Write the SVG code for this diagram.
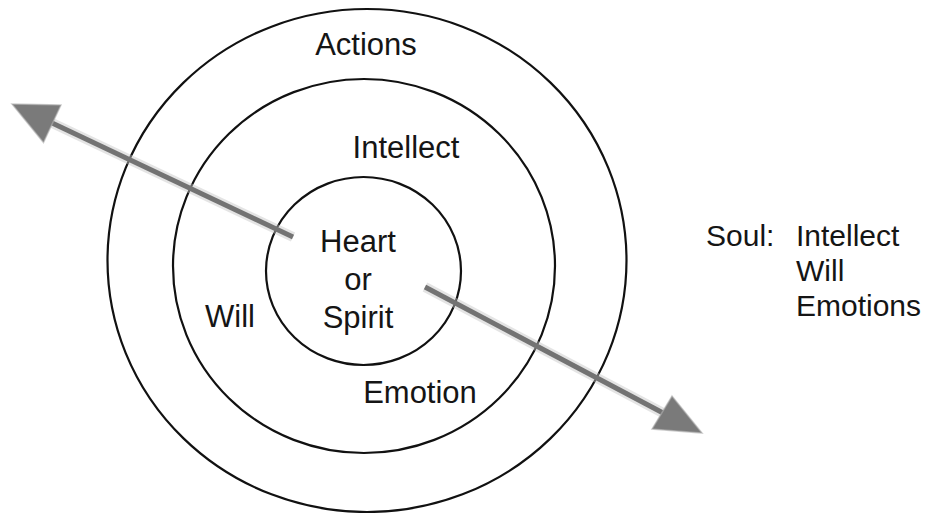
<svg xmlns="http://www.w3.org/2000/svg" width="934" height="513" viewBox="0 0 934 513">
<style>
.ring{fill:none;stroke:#111;stroke-width:2.2}
.t{font-family:"Liberation Sans",Arial,sans-serif;font-size:31px;fill:#151515}
.s{font-size:30px}
.c{text-anchor:middle}
.shaft{stroke:#737373;stroke-width:5;stroke-linecap:butt;fill:none}
.fuzz{stroke:#c4c4c4;stroke-width:10;stroke-opacity:0.45;fill:none}
.head{fill:#7a7a7a;stroke:#b0b0b0;stroke-width:1.5;stroke-opacity:0.6}
</style>
<rect width="934" height="513" fill="#fff"/>
<g id="outer"><ellipse class="ring" cx="367" cy="260.5" rx="259.5" ry="251.5"/><text class="t c" x="366" y="55">Actions</text></g>
<g id="middle"><ellipse class="ring" cx="364" cy="266" rx="191" ry="187"/><text class="t c" x="406" y="158">Intellect</text><text class="t" x="205" y="327">Will</text><text class="t c" x="420" y="403">Emotion</text></g>
<g id="inner"><ellipse class="ring" cx="363.5" cy="271" rx="97.5" ry="94"/><text class="t c" x="358" y="252">Heart</text><text class="t c" x="358" y="290">or</text><text class="t c" x="358" y="328">Spirit</text></g>
<g id="connectors">
<line class="fuzz" x1="293" y1="237" x2="50" y2="122"/>
<line class="shaft" x1="293" y1="237" x2="50" y2="122"/>
<polygon class="head" points="12,104 61,105 43.5,142.5"/>
<line class="fuzz" x1="425" y1="287" x2="665" y2="414"/>
<line class="shaft" x1="425" y1="287" x2="665" y2="414"/>
<polygon class="head" points="702,433 672,396 652,429"/>
</g>
<g id="soul"><text class="t s" x="706" y="246">Soul:</text><text class="t s" x="796" y="246">Intellect</text><text class="t s" x="796" y="281">Will</text><text class="t s" x="796" y="316">Emotions</text></g>
</svg>
